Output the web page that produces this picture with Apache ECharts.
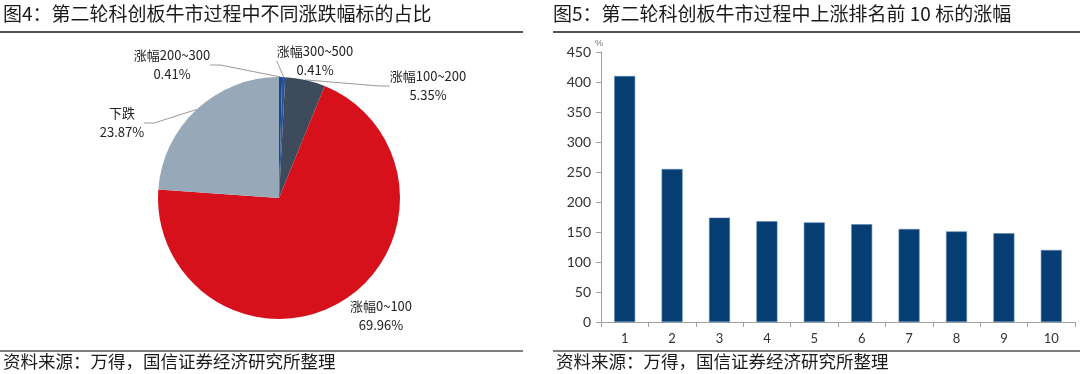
<!DOCTYPE html>
<html>
<head>
<meta charset="utf-8">
<script src="https://cdn.jsdelivr.net/npm/echarts@6/dist/echarts.min.js"></script>
<style>
html,body{margin:0;padding:0;background:#fff;}
#c{width:1080px;height:374px;}
</style>
</head>
<body>
<div id="c"></div>
<script>
// ---- data ----
const leftTitle = '图4：第二轮科创板牛市过程中不同涨跌幅标的占比';
const rightTitle = '图5：第二轮科创板牛市过程中上涨排名前 10 标的涨幅';
const sourceText = '资料来源：万得，国信证券经济研究所整理';
const pieNames = ['涨幅200~300', '涨幅300~500', '涨幅100~200', '涨幅0~100', '下跌'];
const pieValues = [0.41, 0.41, 5.35, 69.96, 23.87];
const barCategories = ['1', '2', '3', '4', '5', '6', '7', '8', '9', '10'];
const barValues = [410, 255, 174, 168, 166, 163, 155, 151, 148, 120];
const yMin = 0, yMax = 450, yInterval = 50;

// ---- styling / layout ----
const pieColors = ['#1d4a86', '#24579c', '#3e4b5c', '#d7111b', '#97a8b8'];
const labelPos = [[172, 65], [315, 61], [428, 86], [381, 316], [122, 123]];
const showLine = [true, true, true, false, true];
const cjk = '"Noto Sans CJK SC", "Noto Sans", sans-serif';

const chart = echarts.init(document.getElementById('c'), null, {renderer: 'canvas'});
chart.setOption({
  animation: false,
  backgroundColor: '#fff',
  graphic: [
    {type: 'text', left: 3, top: 4, style: {text: leftTitle, font: '19px ' + cjk, fill: '#1a1a1a'}},
    {type: 'text', left: 553, top: 4, style: {text: rightTitle, font: '19px ' + cjk, fill: '#1a1a1a'}},
    {type: 'line', shape: {x1: 0, y1: 32, x2: 523, y2: 32}, style: {stroke: '#555', lineWidth: 2}},
    {type: 'line', shape: {x1: 553, y1: 32, x2: 1080, y2: 32}, style: {stroke: '#555', lineWidth: 2}},
    {type: 'line', shape: {x1: 0, y1: 351, x2: 523, y2: 351}, style: {stroke: '#555', lineWidth: 1.5}},
    {type: 'line', shape: {x1: 553, y1: 351, x2: 1080, y2: 351}, style: {stroke: '#555', lineWidth: 1.5}},
    {type: 'text', left: 3, top: 353, style: {text: sourceText, font: '17.5px ' + cjk, fill: '#1a1a1a'}},
    {type: 'text', left: 556, top: 353, style: {text: sourceText, font: '17.5px ' + cjk, fill: '#1a1a1a'}}
  ],
  grid: {left: 601, right: 5, top: 52, bottom: 52},
  xAxis: {
    type: 'category',
    data: barCategories,
    axisLine: {lineStyle: {color: '#a0a0a0'}},
    axisTick: {show: true, length: 5, lineStyle: {color: '#a0a0a0'}},
    axisLabel: {color: '#333', fontSize: 13, fontFamily: 'Lato, "Open Sans", sans-serif', margin: 10}
  },
  yAxis: {
    type: 'value',
    min: yMin, max: yMax, interval: yInterval,
    name: '%',
    nameLocation: 'end',
    nameGap: 4,
    nameTextStyle: {color: '#777', fontSize: 9, align: 'left', padding: [0, 0, 0, -6]},
    axisLine: {show: true, lineStyle: {color: '#a0a0a0'}},
    axisTick: {show: true, length: 5, lineStyle: {color: '#a0a0a0'}},
    splitLine: {show: false},
    axisLabel: {color: '#333', fontSize: 14, fontFamily: 'Lato, "Open Sans", sans-serif', margin: 10}
  },
  series: [
    {
      type: 'bar',
      data: barValues,
      barWidth: 21,
      itemStyle: {color: '#063d72', borderColor: '#5b86b3', borderWidth: 0.6}
    },
    {
      type: 'pie',
      center: [279, 198],
      radius: 121,
      startAngle: 90,
      clockwise: true,
      color: pieColors,
      data: pieNames.map((n, i) => ({name: n, value: pieValues[i], labelLine: {show: showLine[i]}})),
      label: {
        show: true,
        formatter: '{b}\n{c}%',
        color: '#222',
        fontSize: 13,
        lineHeight: 19,
        fontFamily: cjk,
        align: 'center'
      },
      labelLine: {show: true, length: 10, length2: 10, smooth: false, lineStyle: {color: '#9a9a9a', width: 1}},
      labelLayout: function (p) {
        const pos = labelPos[p.dataIndex];
        return {x: pos[0], y: pos[1], align: 'center', verticalAlign: 'middle'};
      }
    }
  ]
});
</script>
</body>
</html>
